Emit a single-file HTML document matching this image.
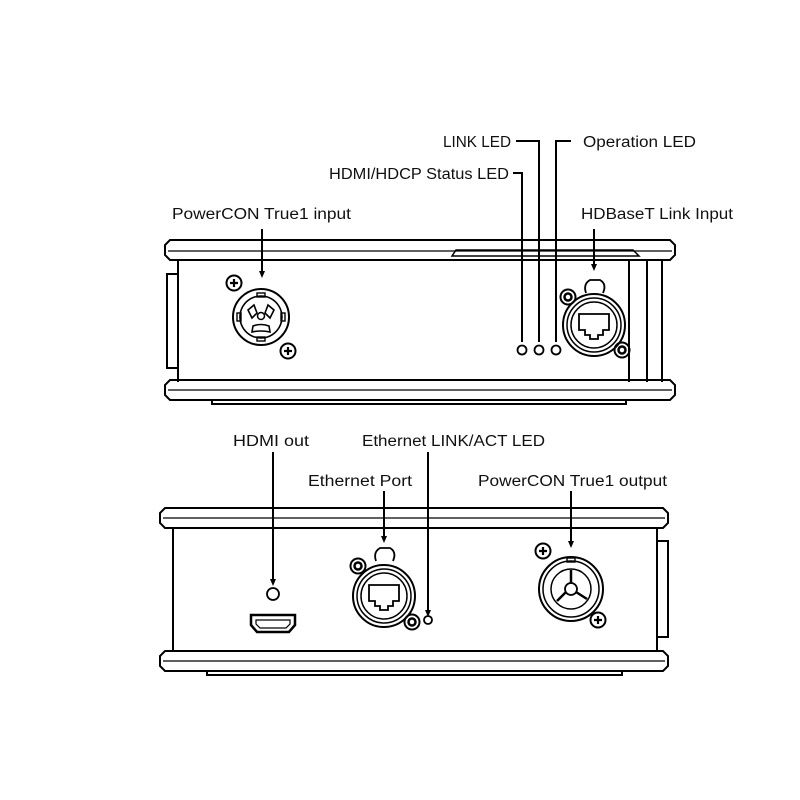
<!DOCTYPE html>
<html><head><meta charset="utf-8"><style>
html,body{margin:0;padding:0;background:#fff}
svg{display:block}
text{font-family:"Liberation Sans",sans-serif;font-size:15.5px;fill:#111}
</style></head><body>
<svg width="800" height="800" viewBox="0 0 800 800" xmlns="http://www.w3.org/2000/svg">
<g fill="none" stroke="#000" stroke-width="2">
<!-- TOP DEVICE -->
<path d="M170,240 H670 L675,245 V255 L670,260 H170 L165,255 V245 Z"/>
<line x1="168" y1="251" x2="672" y2="251" stroke-width="1.3"/>
<path d="M452,256 L456,250 H633 L639,256 Z" stroke-width="1.5"/>
<line x1="178" y1="260" x2="178" y2="382"/>
<path d="M178,274 H167 V368 H178" />
<line x1="629" y1="260" x2="629" y2="382"/>
<line x1="647" y1="260" x2="647" y2="382"/>
<line x1="662" y1="260" x2="662" y2="382"/>
<path d="M170,380 H670 L675,385 V395 L670,400 H170 L165,395 V385 Z"/>
<line x1="168" y1="390" x2="672" y2="390" stroke-width="1.3"/>
<path d="M212,400 V404 H626 V400" stroke-width="2"/>
<!-- powercon input -->
<circle cx="261" cy="317" r="28"/>
<path d="M261,296 A21,21 0 1,1 260.9,296 Z" stroke-width="1.6"/>
<rect x="257" y="293" width="8" height="4" stroke-width="1.4"/>
<rect x="257" y="337" width="8" height="4" stroke-width="1.4"/>
<rect x="237" y="313" width="4" height="8" stroke-width="1.4"/>
<rect x="281" y="313" width="4" height="8" stroke-width="1.4"/>
<path d="M248,310 L254,305 L257,313 L252,318 Z" stroke-width="1.6"/>
<path d="M274,310 L268,305 L265,313 L270,318 Z" stroke-width="1.6"/>
<path d="M253,326 Q261,323 269,326 L270,332 Q261,330 252,332 Z" stroke-width="1.6"/>
<circle cx="261" cy="316" r="3.5" stroke-width="1.5"/>
<circle cx="234" cy="283" r="7.5"/>
<path d="M230,283 H238 M234,279 V287" stroke-width="2.2"/>
<circle cx="288" cy="351" r="7.5"/>
<path d="M284,351 H292 M288,347 V355" stroke-width="2.2"/>
<!-- LEDs -->
<circle cx="522" cy="350" r="4.5" stroke-width="1.8"/>
<circle cx="539" cy="350" r="4.5" stroke-width="1.8"/>
<circle cx="556" cy="350" r="4.5" stroke-width="1.8"/>
<!-- RJ45 top -->
<path d="M586,293 Q583,284 590,280 H600 Q607,284 603,293" stroke-width="1.8"/>
<circle cx="594" cy="325" r="31"/>
<circle cx="594" cy="325" r="27" stroke-width="1.5"/>
<circle cx="594" cy="325" r="23" stroke-width="1.5"/>
<path d="M579,314 H609 V330 H603 V335 H598 V339 H590 V335 H585 V330 H579 Z" stroke-width="1.8"/>
<circle cx="568" cy="297" r="7.5"/><circle cx="568" cy="297" r="3.5" stroke-width="2.5"/>
<circle cx="622" cy="350" r="7.5"/><circle cx="622" cy="350" r="3.5" stroke-width="2.5"/>

<!-- BOTTOM DEVICE -->
<path d="M165,508 H663 L668,513 V523 L663,528 H165 L160,523 V513 Z"/>
<line x1="163" y1="518" x2="665" y2="518" stroke-width="1.3"/>
<line x1="173" y1="528" x2="173" y2="651"/>
<line x1="657" y1="528" x2="657" y2="651"/>
<path d="M657,541 H668 V637 H657"/>
<path d="M165,651 H663 L668,656 V666 L663,671 H165 L160,666 V656 Z"/>
<line x1="163" y1="661" x2="665" y2="661" stroke-width="1.3"/>
<path d="M207,671 V675 H622 V671"/>
<!-- HDMI -->
<circle cx="273" cy="594" r="6" stroke-width="1.8"/>
<path d="M251,615 H295 V625 L289,632 H257 L251,625 Z" stroke-width="2.5"/>
<path d="M256,620 H290 V624 L286,628 H260 L256,624 Z" stroke-width="1.2"/>
<!-- RJ45 bottom -->
<path d="M376,561 Q373,552 380,548 H390 Q397,552 393,561" stroke-width="1.8"/>
<circle cx="384" cy="596" r="31"/>
<circle cx="384" cy="596" r="27" stroke-width="1.5"/>
<circle cx="384" cy="596" r="23" stroke-width="1.5"/>
<path d="M369,585 H399 V601 H393 V606 H388 V610 H380 V606 H375 V601 H369 Z" stroke-width="1.8"/>
<circle cx="358" cy="566" r="7.5"/><circle cx="358" cy="566" r="3.5" stroke-width="2.5"/>
<circle cx="412" cy="622" r="7.5"/><circle cx="412" cy="622" r="3.5" stroke-width="2.5"/>
<circle cx="428" cy="620" r="4" stroke-width="1.8"/>
<!-- powercon out -->
<circle cx="571" cy="589" r="32"/>
<circle cx="571" cy="589" r="28" stroke-width="1.5"/>
<circle cx="571" cy="589" r="20" stroke-width="1.5"/>
<rect x="567" y="558" width="8" height="4" stroke-width="1.4"/>
<circle cx="571" cy="589" r="6" stroke-width="1.8"/>
<path d="M571,583 V570 M576,592 L587,599 M566,592 L557,601" stroke-width="2.5"/>
<circle cx="543" cy="551" r="7.5"/>
<path d="M539,551 H547 M543,547 V555" stroke-width="2.2"/>
<circle cx="598" cy="620" r="7.5"/>
<path d="M594,620 H602 M598,616 V624" stroke-width="2.2"/>
</g>

<!-- LEADERS -->
<g fill="none" stroke="#000" stroke-width="2">
<line x1="262" y1="229" x2="262" y2="272"/>
<line x1="594" y1="229" x2="594" y2="265"/>
<path d="M513,173 H522 V342"/>
<path d="M516,141 H539 V342"/>
<path d="M571,141 H556 V342"/>
<line x1="273" y1="452" x2="273" y2="580"/>
<line x1="384" y1="491" x2="384" y2="537"/>
<line x1="428" y1="452" x2="428" y2="611"/>
<line x1="571" y1="491" x2="571" y2="542"/>
</g>
<g fill="#000">
<path d="M259,271 L265,271 L262,278 Z"/>
<path d="M591,264 L597,264 L594,271 Z"/>
<path d="M270,579 L276,579 L273,586 Z"/>
<path d="M381,536 L387,536 L384,543 Z"/>
<path d="M425,610 L431,610 L428,617 Z"/>
<path d="M568,541 L574,541 L571,548 Z"/>
</g>

<!-- LABELS -->
<text x="443" y="147" textLength="68" lengthAdjust="spacingAndGlyphs">LINK LED</text>
<text x="583" y="147" textLength="113" lengthAdjust="spacingAndGlyphs">Operation LED</text>
<text x="329" y="179" textLength="180" lengthAdjust="spacingAndGlyphs">HDMI/HDCP Status LED</text>
<text x="172" y="219" textLength="179" lengthAdjust="spacingAndGlyphs">PowerCON True1 input</text>
<text x="581" y="219" textLength="152" lengthAdjust="spacingAndGlyphs">HDBaseT Link Input</text>
<text x="233" y="446" textLength="76" lengthAdjust="spacingAndGlyphs">HDMI out</text>
<text x="362" y="446" textLength="183" lengthAdjust="spacingAndGlyphs">Ethernet LINK/ACT LED</text>
<text x="308" y="486" textLength="104" lengthAdjust="spacingAndGlyphs">Ethernet Port</text>
<text x="478" y="486" textLength="189" lengthAdjust="spacingAndGlyphs">PowerCON True1 output</text>
</svg>
</body></html>
